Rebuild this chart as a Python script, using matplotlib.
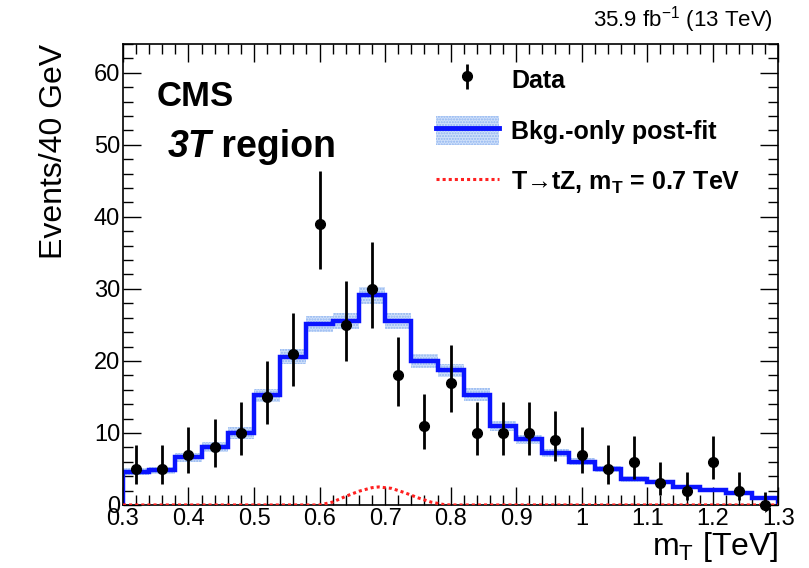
import numpy as np
import matplotlib
matplotlib.use('Agg')
import matplotlib.pyplot as plt
from matplotlib.lines import Line2D
from matplotlib.patches import Patch
from matplotlib.ticker import MultipleLocator

plt.rcParams['font.family'] = ['Liberation Sans', 'DejaVu Sans']
plt.rcParams['mathtext.fontset'] = 'custom'
plt.rcParams['mathtext.rm'] = 'Liberation Sans'
plt.rcParams['mathtext.it'] = 'Liberation Sans:italic'
plt.rcParams['mathtext.bf'] = 'Liberation Sans:bold'
plt.rcParams['hatch.linewidth'] = 1.0

# bin edges in TeV, 40 GeV bins
edges = np.round(np.arange(0.30, 1.3001, 0.04), 2)
centers = (edges[:-1] + edges[1:]) / 2

data = [5, 5, 7, 8, 10, 15, 21, 39, 25, 30, 18, 11, 17,
        10, 10, 10, 9, 7, 5, 6, 3, 2, 6, 2, 0]
err_lo = [2.16, 2.16, 2.58, 2.77, 3.11, 3.82, 4.55, 6.22, 4.97, 5.45, 4.20, 3.27, 4.08,
          3.11, 3.11, 3.11, 2.94, 2.58, 2.16, 2.38, 1.63, 1.29, 2.38, 1.29, 0.0]
err_hi = [3.38, 3.38, 3.77, 3.95, 4.27, 4.96, 5.66, 7.30, 6.07, 6.55, 5.32, 4.42, 5.20,
          4.27, 4.27, 4.27, 4.11, 3.77, 3.38, 3.58, 2.92, 2.64, 3.58, 2.64, 1.84]

bkg = [4.6, 4.8, 6.6, 8.1, 10.0, 15.2, 20.6, 25.1, 25.6, 29.1, 25.5, 20.0, 18.7,
       15.3, 11.0, 9.1, 7.2, 6.0, 5.0, 3.6, 3.15, 2.45, 2.1, 1.7, 0.9]
bkg_unc = [0.5, 0.5, 0.6, 0.7, 0.8, 0.9, 1.0, 1.1, 1.1, 1.2, 1.1, 1.0, 0.9,
           0.9, 0.7, 0.6, 0.5, 0.5, 0.4, 0.4, 0.3, 0.3, 0.3, 0.2, 0.2]

sig_x = [0.30, 0.60, 0.62, 0.64, 0.66, 0.68, 0.69, 0.71, 0.73, 0.75, 0.77, 0.79, 0.80, 1.30]
sig_y = [0.0, 0.0, 0.4, 1.2, 1.9, 2.4, 2.5, 2.3, 1.7, 1.0, 0.4, 0.05, 0.0, 0.0]

band_fc = '#cfe0fa'
band_ec = '#8fb4f0'
blue = '#0a14ff'
red = '#ff2020'

fig = plt.figure(figsize=(8.09, 5.68), dpi=100)
ax = fig.add_axes([0.152, 0.111, 0.810, 0.8115])

bkg = np.array(bkg)
bkg_unc = np.array(bkg_unc)
lo = np.append(bkg - bkg_unc, (bkg - bkg_unc)[-1])
hi = np.append(bkg + bkg_unc, (bkg + bkg_unc)[-1])
ax.fill_between(edges, lo, hi, step='post', facecolor=band_fc, edgecolor=band_ec,
                hatch='......', linewidth=0, zorder=1)
ax.stairs(bkg, edges, color=blue, linewidth=3.2, zorder=2)

ax.plot(sig_x, sig_y, color=red, linestyle=(0, (1, 1)), linewidth=2.2, zorder=3)

ax.errorbar(centers, data, yerr=[err_lo, err_hi], fmt='o', color='black',
            markersize=7, elinewidth=2, capsize=0, zorder=4, clip_on=False)

ax.set_xlim(0.3, 1.3)
ax.set_ylim(0, 64)
ax.xaxis.set_major_locator(MultipleLocator(0.1))
ax.xaxis.set_minor_locator(MultipleLocator(0.02))
ax.yaxis.set_major_locator(MultipleLocator(10))
ax.yaxis.set_minor_locator(MultipleLocator(2))
ax.tick_params(which='both', direction='in', top=True, right=True, labelsize=17, width=1)
ax.tick_params(which='major', length=13, pad=2)
ax.tick_params(which='minor', length=7)
ax.set_xticks([0.3, 0.4, 0.5, 0.6, 0.7, 0.8, 0.9, 1.0, 1.1, 1.2, 1.3])
ax.set_xticklabels(['0.3', '0.4', '0.5', '0.6', '0.7', '0.8', '0.9', '1', '1.1', '1.2', '1.3'])
for sp in ax.spines.values():
    sp.set_linewidth(1.2)

ax.set_xlabel(r'm$_{\mathregular{T}}$ [TeV]', fontsize=23, loc='right', labelpad=0)
ax.set_ylabel('Events/40 GeV', fontsize=23, loc='top', labelpad=18)

ax.text(0.052, 0.865, 'CMS', transform=ax.transAxes, fontsize=25, fontweight='bold')
t3 = ax.text(0.068, 0.755, '3T', transform=ax.transAxes, fontsize=27,
             fontweight='bold', fontstyle='italic')
ax.annotate(' region', xy=(1, 0), xycoords=t3, fontsize=27, fontweight='bold',
            va='bottom', ha='left')
ax.text(0.992, 1.02, r'35.9 fb$^{\mathregular{-1}}$ (13 TeV)', transform=ax.transAxes,
        fontsize=16, ha='right', va='bottom')

h_bkg_band = Patch(facecolor=band_fc, edgecolor=band_ec, hatch='......', linewidth=0)
h_bkg_line = Line2D([], [], color=blue, linewidth=3.5)
h_sig = Line2D([], [], color=red, linestyle=(0, (1, 1)), linewidth=2.2)
h_err = ax.errorbar([], [], yerr=[], fmt='o', color='black', markersize=7, elinewidth=2)
leg = ax.legend([h_err, (h_bkg_band, h_bkg_line), h_sig],
                ['Data', 'Bkg.-only post-fit', 'T\u2192tZ, m$_{\\mathregular{T}}$ = 0.7 TeV'],
                loc='upper left', bbox_to_anchor=(0.478, 0.955), frameon=False,
                prop={'weight': 'bold', 'size': 18}, handlelength=2.5, handleheight=1.4,
                labelspacing=0.9, handletextpad=0.5, borderaxespad=0, borderpad=0)

fig.savefig('out.png', dpi=100)
